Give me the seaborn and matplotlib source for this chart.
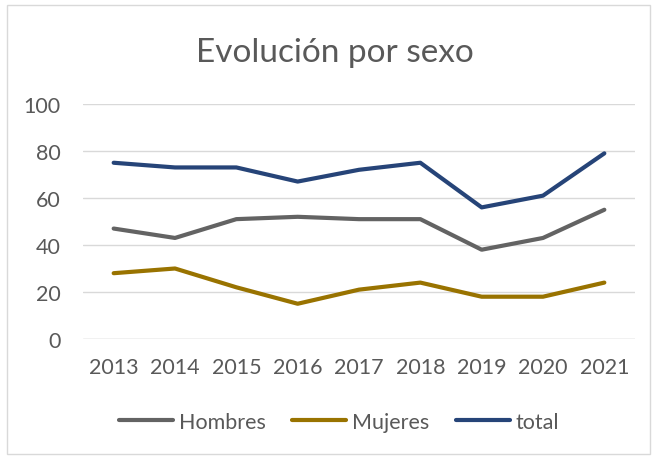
import pandas as pd
import seaborn as sns
import matplotlib.pyplot as plt
from matplotlib.patches import Rectangle

# datos
years = ["2013", "2014", "2015", "2016", "2017", "2018", "2019", "2020", "2021"]
hombres = [47, 43, 51, 52, 51, 51, 38, 43, 55]
mujeres = [28, 30, 22, 15, 21, 24, 18, 18, 24]
total = [75, 73, 73, 67, 72, 75, 56, 61, 79]

series_names = ["Hombres", "Mujeres", "total"]
colors = ["#636363", "#997300", "#264478"]

df = pd.DataFrame({"year": years * 3,
                   "value": hombres + mujeres + total,
                   "serie": [s for s in series_names for _ in years]})

sns.set_style("white")
plt.rcParams['font.family'] = ['Lato', 'DejaVu Sans']
text_color = "#595959"

fig = plt.figure(figsize=(6.55, 4.6), dpi=100)
ax = fig.add_axes([83 / 655, 1 - 340 / 460, 552 / 655, 235 / 460])

sns.lineplot(data=df, x="year", y="value", hue="serie", palette=colors,
             linewidth=3.0, ax=ax, sort=False, solid_capstyle="round")

ax.set_ylim(0, 100)
ax.set_xlim(-0.5, 8.5)
ax.set_yticks([0, 20, 40, 60, 80, 100])
ax.yaxis.grid(True, color="#D9D9D9", linewidth=1)
ax.set_axisbelow(True)
for s in ax.spines.values():
    s.set_visible(False)
ax.axhline(0, color="#D9D9D9", linewidth=1, zorder=0)
ax.tick_params(axis="both", length=0, labelsize=15.5, labelcolor=text_color)
ax.tick_params(axis="x", pad=13)
ax.tick_params(axis="y", pad=16)
ax.set_xlabel("")
ax.set_ylabel("")

fig.text(335 / 655, 1 - 62 / 460, "Evolución por sexo", ha="center", va="baseline",
         fontsize=24, color=text_color)

leg = ax.legend(loc="center", bbox_to_anchor=(339 / 655, 1 - 423 / 460),
                bbox_transform=fig.transFigure, ncol=3, frameon=False,
                fontsize=15.5, handlelength=2.5, handletextpad=0.25,
                columnspacing=1.25)
for t in leg.get_texts():
    t.set_color(text_color)

fig.patches.append(Rectangle((7 / 655, 1 - 455 / 460), 643 / 655, 449 / 460,
                             transform=fig.transFigure, fill=False,
                             edgecolor="#D9D9D9", linewidth=1))

fig.savefig("out.png", dpi=100)
